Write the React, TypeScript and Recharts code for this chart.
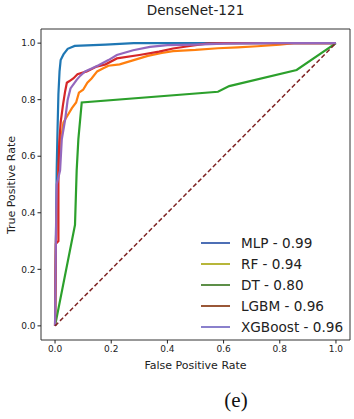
import React from 'react';
import { LineChart, Line, XAxis, YAxis, ReferenceArea, Legend } from 'recharts';

const ticks = [0, 0.2, 0.4, 0.6, 0.8, 1.0];

const fprMLP = [0, 0.003, 0.006, 0.009, 0.012, 0.016, 0.02, 0.03, 0.045, 0.07, 0.18, 0.28, 1.0];
const tprMLP = [0, 0.3, 0.56, 0.7, 0.82, 0.9, 0.94, 0.96, 0.98, 0.99, 0.995, 1.0, 1.0];

const fprRF = [0, 0.003, 0.008, 0.012, 0.02, 0.03, 0.045, 0.06, 0.075, 0.085, 0.1, 0.115, 0.13, 0.15, 0.17, 0.19, 0.23, 0.28, 0.33, 0.38, 0.42, 0.5, 0.58, 0.65, 0.72, 0.8, 0.85, 1.0];
const tprRF = [0, 0.3, 0.45, 0.55, 0.65, 0.72, 0.745, 0.77, 0.79, 0.825, 0.835, 0.86, 0.875, 0.9, 0.91, 0.92, 0.925, 0.94, 0.955, 0.965, 0.972, 0.976, 0.982, 0.985, 0.989, 0.995, 1.0, 1.0];

const fprDT = [0, 0.071, 0.077, 0.083, 0.095, 0.58, 0.62, 0.86, 1.0];
const tprDT = [0, 0.357, 0.55, 0.66, 0.79, 0.828, 0.848, 0.905, 1.0];

const fprLGBM = [0, 0.003, 0.012, 0.012, 0.015, 0.02, 0.028, 0.036, 0.042, 0.05, 0.065, 0.08, 0.113, 0.148, 0.18, 0.22, 0.3, 0.37, 0.42, 0.48, 0.54, 0.6, 1.0];
const tprLGBM = [0, 0.29, 0.3, 0.56, 0.65, 0.72, 0.78, 0.83, 0.86, 0.865, 0.875, 0.89, 0.9, 0.917, 0.925, 0.946, 0.958, 0.97, 0.981, 0.99, 0.998, 1.0, 1.0];

const fprXGB = [0, 0.003, 0.006, 0.018, 0.024, 0.036, 0.045, 0.055, 0.077, 0.09, 0.107, 0.13, 0.155, 0.19, 0.22, 0.278, 0.338, 0.4, 0.5, 0.6, 0.75, 1.0];
const tprXGB = [0, 0.3, 0.5, 0.55, 0.66, 0.73, 0.8, 0.84, 0.87, 0.885, 0.9, 0.91, 0.922, 0.94, 0.958, 0.975, 0.987, 0.993, 0.995, 0.998, 1.0, 1.0];

const fprDiag = [0, 1];
const tprDiag = [0, 1];

const seriesNames = ['MLP - 0.99', 'RF - 0.94', 'DT - 0.80', 'LGBM - 0.96', 'XGBoost - 0.96'];
const lineColors = ['#1f77b4', '#ff7f0e', '#2ca02c', '#d62728', '#9467bd'];
const legendColors = ['#4d6fb5', '#b7b63a', '#5d8f48', '#9a5737', '#8a80cc'];

const zip = (xs: number[], ys: number[]) => xs.map((x, i) => ({ x, y: ys[i] }));

const seriesData = [
  zip(fprMLP, tprMLP),
  zip(fprRF, tprRF),
  zip(fprDT, tprDT),
  zip(fprLGBM, tprLGBM),
  zip(fprXGB, tprXGB),
];
const diagData = zip(fprDiag, tprDiag);

const FONT = '"DejaVu Sans", sans-serif';

const renderLegend = () => (
  <div style={{ fontFamily: FONT, fontSize: 13.6, color: '#222' }}>
    {seriesNames.map((n, i) => (
      <div key={n} style={{ display: 'flex', alignItems: 'center', height: 20.9 }}>
        <svg width={29} height={4} style={{ marginRight: 11 }}>
          <line x1={0} y1={2} x2={29} y2={2} stroke={legendColors[i]} strokeWidth={2} />
        </svg>
        <span style={{ whiteSpace: 'nowrap' }}>{n}</span>
      </div>
    ))}
  </div>
);

export default function App() {
  return (
    <div style={{ position: 'absolute', left: 0, top: 0, width: 354, height: 419, background: '#fff' }}>
      <LineChart width={354} height={419} margin={{ top: 29, right: 4, left: 0, bottom: 0 }}>
        <XAxis
          dataKey="x"
          type="number"
          domain={[-0.05, 1.05]}
          ticks={ticks}
          allowDataOverflow
          height={79}
          axisLine={false}
          tickLine={{ stroke: '#222' }}
          tickSize={3.5}
          tickFormatter={(v: number) => v.toFixed(1)}
          tick={{ fontSize: 9, fill: '#222', fontFamily: FONT }}
        />
        <YAxis
          type="number"
          domain={[-0.05, 1.05]}
          ticks={ticks}
          allowDataOverflow
          width={41}
          axisLine={false}
          tickLine={{ stroke: '#222' }}
          tickSize={3.5}
          tickFormatter={(v: number) => v.toFixed(1)}
          tick={{ fontSize: 9, fill: '#222', fontFamily: FONT }}
        />
        {seriesData.map((d, i) => (
          <Line
            key={seriesNames[i]}
            data={d}
            dataKey="y"
            type="linear"
            dot={false}
            activeDot={false}
            stroke={lineColors[i]}
            strokeWidth={2.2}
            isAnimationActive={false}
            legendType="none"
          />
        ))}
        <Line
          data={diagData}
          dataKey="y"
          type="linear"
          dot={false}
          activeDot={false}
          stroke="#7f2424"
          strokeWidth={1.5}
          strokeDasharray="4.5 2.5"
          isAnimationActive={false}
          legendType="none"
        />
        <ReferenceArea x1={-0.05} x2={1.05} y1={-0.05} y2={1.05} fill="none" stroke="#333" strokeWidth={1} ifOverflow="visible" />
        <Legend
          layout="vertical"
          align="center"
          verticalAlign="middle"
          content={renderLegend}
          wrapperStyle={{ position: 'absolute', left: 201, top: 232.5, width: 150 }}
        />
      </LineChart>
      <div style={{ position: 'absolute', left: 41, width: 309, top: 2, textAlign: 'center', fontFamily: FONT, fontSize: 13.6, color: '#222' }}>
        DenseNet-121
      </div>
      <div style={{ position: 'absolute', left: 41, width: 309, top: 358.5, textAlign: 'center', fontFamily: FONT, fontSize: 11, color: '#222' }}>
        False Positive Rate
      </div>
      <div style={{ position: 'absolute', left: 11, top: 185, width: 0, height: 0 }}>
        <div style={{ position: 'absolute', transform: 'translate(-50%, -50%) rotate(-90deg)', whiteSpace: 'nowrap', fontFamily: FONT, fontSize: 11, color: '#222' }}>
          True Positive Rate
        </div>
      </div>
      <div style={{ position: 'absolute', left: 186, width: 100, top: 388, textAlign: 'center', fontFamily: '"Liberation Serif", serif', fontSize: 21, color: '#111' }}>
        (e)
      </div>
    </div>
  );
}
